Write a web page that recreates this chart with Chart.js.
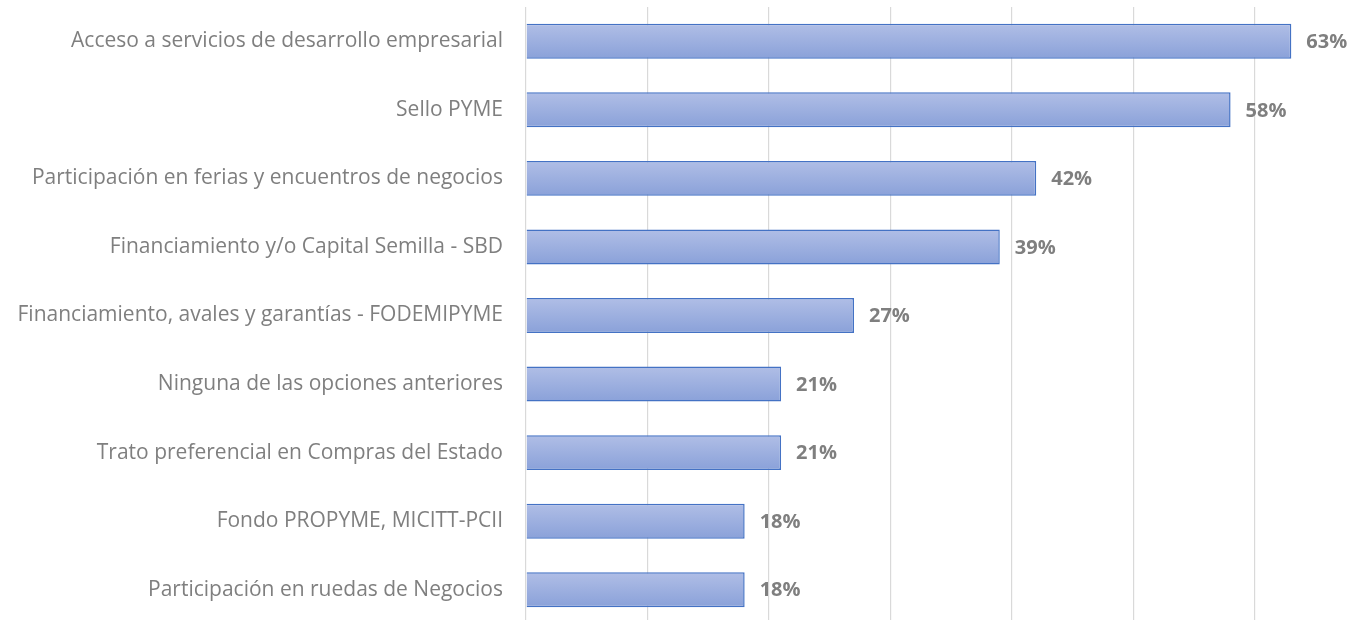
<!DOCTYPE html>
<html>
<head>
<meta charset="utf-8">
<script src="https://cdn.jsdelivr.net/npm/chart.js@4"></script>
<style>
html,body{margin:0;padding:0;background:#fff;overflow:hidden;}
#clip{width:1363px;height:620px;overflow:hidden;position:relative;}
#box{position:absolute;left:0;top:0;width:1363px;height:624px;}
</style>
</head>
<body>
<div id="clip"><div id="box"><canvas id="c"></canvas></div></div>
<script>
const categories = [
  "Acceso a servicios de desarrollo empresarial",
  "Sello PYME",
  "Participación en ferias y encuentros de negocios",
  "Financiamiento y/o Capital Semilla - SBD",
  "Financiamiento, avales y garantías - FODEMIPYME",
  "Ninguna de las opciones anteriores",
  "Trato preferencial en Compras del Estado",
  "Fondo PROPYME, MICITT-PCII",
  "Participación en ruedas de Negocios"
];
const values = [0.63, 0.58, 0.42, 0.39, 0.27, 0.21, 0.21, 0.18, 0.18];
const valueLabels = ["63%", "58%", "42%", "39%", "27%", "21%", "21%", "18%", "18%"];
const gridTicks = [0, 0.1, 0.2, 0.3, 0.4, 0.5, 0.6];

const FONT = "'Open Sans', Lato, sans-serif";

const gradientPlugin = {
  id: 'barGradient',
  beforeDatasetsDraw(chart) {
    const ctx = chart.ctx;
    chart.getDatasetMeta(0).data.forEach(el => {
      const top = el.y - el.height / 2, bottom = el.y + el.height / 2;
      const g = ctx.createLinearGradient(0, top, 0, bottom);
      g.addColorStop(0, '#B0BEE6');
      g.addColorStop(1, '#8AA1D9');
      el.options = Object.assign({}, el.options, { backgroundColor: g });
    });
  }
};

const labelPlugin = {
  id: 'valueLabels',
  afterDatasetsDraw(chart) {
    const ctx = chart.ctx;
    ctx.save();
    ctx.font = "bold 20px " + FONT;
    ctx.fillStyle = '#7F7F7F';
    ctx.textAlign = 'left';
    ctx.textBaseline = 'middle';
    chart.getDatasetMeta(0).data.forEach((el, i) => {
      ctx.fillText(valueLabels[i], el.x + 15, el.y + 1);
    });
    ctx.restore();
  }
};

new Chart(document.getElementById('c'), {
  type: 'bar',
  data: {
    labels: categories,
    datasets: [{
      data: values,
      backgroundColor: '#9DB0E0',
      borderColor: '#4472C4',
      borderWidth: 1.5,
      categoryPercentage: 1,
      barPercentage: 0.51
    }]
  },
  options: {
    indexAxis: 'y',
    responsive: true,
    maintainAspectRatio: false,
    animation: false,
    devicePixelRatio: 1,
    layout: { padding: { top: 7, bottom: 0, left: 0, right: 0 } },
    plugins: { legend: { display: false }, tooltip: { enabled: false } },
    scales: {
      x: {
        min: 0,
        max: 0.689,
        afterBuildTicks(scale) {
          scale.ticks = gridTicks.map(v => ({ value: v }));
        },
        afterFit(scale) { scale.height = 0; scale.paddingLeft = 0; scale.paddingRight = 0; },
        ticks: { display: false },
        grid: { color: '#D9D9D9', lineWidth: 1.2, drawTicks: false },
        border: { display: false }
      },
      y: {
        afterFit(scale) { scale.width = 526; scale.paddingTop = 0; scale.paddingBottom = 0; },
        ticks: {
          color: '#7F7F7F',
          font: { family: FONT, size: 21 },
          padding: 23
        },
        grid: { display: false, drawTicks: false },
        border: { display: false }
      }
    }
  },
  plugins: [gradientPlugin, labelPlugin]
});
</script>
</body>
</html>
